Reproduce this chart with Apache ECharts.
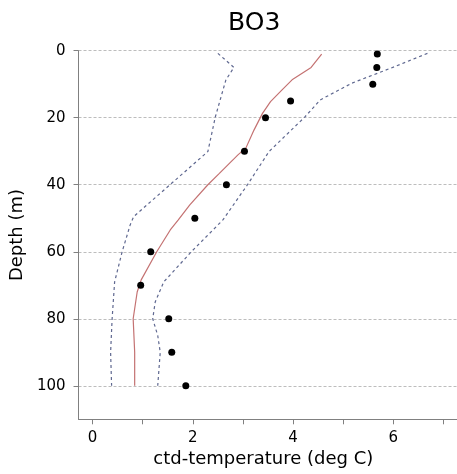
<!DOCTYPE html>
<html>
<head>
<meta charset="utf-8">
<script src="https://cdn.jsdelivr.net/npm/echarts@6/dist/echarts.min.js"></script>
<style>
html,body{margin:0;padding:0;background:#fff;}
#chart{width:457px;height:474px;}
</style>
</head>
<body>
<div id="chart"></div>
<script>
// Observed points
const obsDepth = [1, 5, 10, 15, 20, 30, 40, 50, 60, 70, 80, 90, 100];
const obsTemp  = [5.68, 5.67, 5.59, 3.95, 3.45, 3.03, 2.67, 2.04, 1.16, 0.96, 1.52, 1.58, 1.86];

// Central (red) curve
const midDepth = [1, 5, 8.7, 11.7, 15.2, 18.7, 23.7, 29, 31.1, 36.6, 40, 46, 50.5, 53.5, 60, 68.4, 72, 80, 90, 100];
const midTemp  = [4.57, 4.36, 3.98, 3.78, 3.55, 3.39, 3.22, 3.06, 2.90, 2.53, 2.30, 1.94, 1.71, 1.55, 1.28, 0.97, 0.89, 0.81, 0.84, 0.84];

// Lower dashed bound
const lowDepth = [0.8, 5, 8.7, 19.7, 30.1, 49.5, 52, 60, 69, 80, 90, 100];
const lowTemp  = [2.50, 2.82, 2.66, 2.45, 2.30, 0.82, 0.75, 0.59, 0.44, 0.39, 0.36, 0.38];

// Upper dashed bound
const upDepth = [0.8, 4.8, 9.7, 14.7, 19.7, 30.1, 40, 50.5, 60, 69, 75, 80, 85, 90, 100];
const upTemp  = [6.68, 6.02, 5.17, 4.54, 4.24, 3.52, 3.09, 2.60, 1.97, 1.42, 1.25, 1.20, 1.30, 1.35, 1.30];

const xTicks = [0, 1, 2, 3, 4, 5, 6, 7];
const xLabels = [0, 2, 4, 6];
const yTicks = [0, 20, 40, 60, 80, 100];

const pairs = (xs, ys) => xs.map((x, i) => [x, ys[i]]);

const FONT = 'DejaVu Sans';
const chart = echarts.init(document.getElementById('chart'), null, {renderer: 'canvas'});
chart.setOption({
  animation: false,
  backgroundColor: '#ffffff',
  title: {
    text: 'BO3',
    left: 223,
    top: 6,
    textStyle: {fontFamily: FONT, fontSize: 25, fontWeight: 'normal', color: '#000'}
  },
  grid: {left: 74, right: 0, top: 50.7, bottom: 54.7, containLabel: false},
  xAxis: {
    type: 'value',
    min: -0.28,
    max: 7.27,
    name: 'ctd-temperature (deg C)',
    nameLocation: 'middle',
    nameGap: 29,
    nameTextStyle: {fontFamily: FONT, fontSize: 18, color: '#000', padding: [0, 9, 0, 0]},
    axisLine: {show: true, onZero: false, lineStyle: {color: '#808080', width: 1}},
    axisTick: {show: true, length: 5, customValues: xTicks, lineStyle: {color: '#808080'}},
    axisLabel: {customValues: xLabels, margin: 11, fontFamily: FONT, fontSize: 15, color: '#000'},
    splitLine: {show: false}
  },
  yAxis: {
    type: 'value',
    inverse: true,
    min: 0,
    max: 110,
    interval: 20,
    name: 'Depth (m)',
    nameLocation: 'middle',
    nameGap: 46,
    nameTextStyle: {fontFamily: FONT, fontSize: 18, color: '#000'},
    axisLine: {show: true, onZero: false, lineStyle: {color: '#808080', width: 1}},
    axisTick: {show: true, length: 5, customValues: yTicks, lineStyle: {color: '#808080'}},
    axisLabel: {customValues: yTicks, margin: 13, fontFamily: FONT, fontSize: 15, color: '#000'},
    splitLine: {show: true, lineStyle: {color: '#bdbdbd', width: 1, type: [3, 2]}}
  },
  series: [
    {
      type: 'line',
      data: pairs(lowTemp, lowDepth),
      symbol: 'none',
      lineStyle: {color: '#5f6890', width: 1.2, type: [3, 3]},
      z: 2
    },
    {
      type: 'line',
      data: pairs(upTemp, upDepth),
      symbol: 'none',
      lineStyle: {color: '#5f6890', width: 1.2, type: [3, 3]},
      z: 2
    },
    {
      type: 'line',
      data: pairs(midTemp, midDepth),
      symbol: 'none',
      lineStyle: {color: '#c47272', width: 1.2},
      z: 3
    },
    {
      type: 'scatter',
      data: pairs(obsTemp, obsDepth),
      symbol: 'circle',
      symbolSize: 7,
      itemStyle: {color: '#000000', opacity: 1},
      z: 4
    }
  ]
});
</script>
</body>
</html>
